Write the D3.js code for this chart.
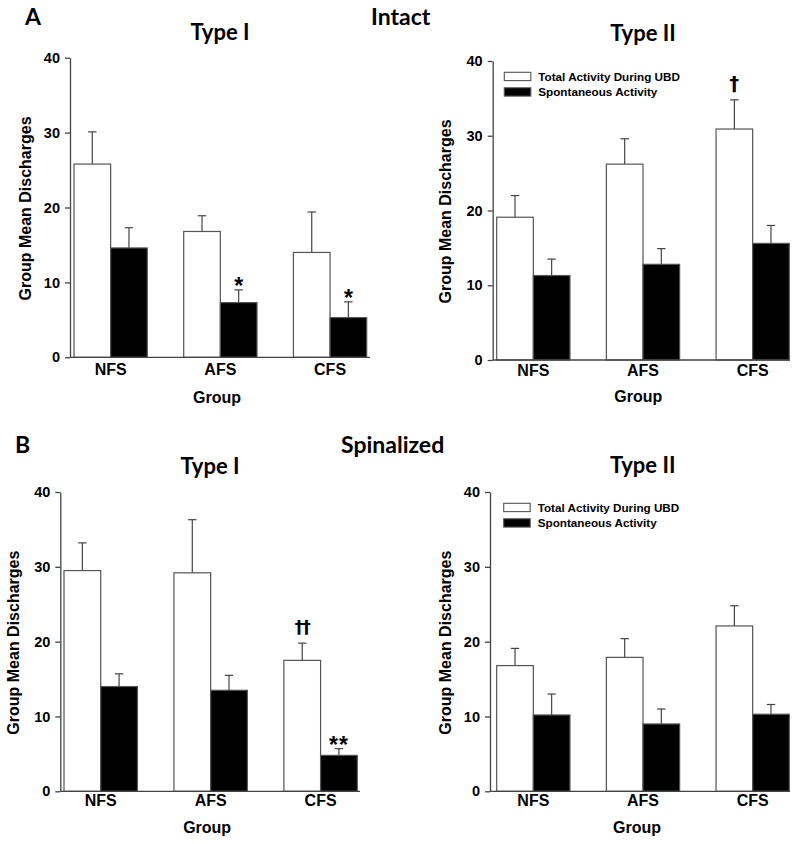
<!DOCTYPE html>
<html>
<head>
<meta charset="utf-8">
<script src="https://cdn.jsdelivr.net/npm/d3@7"></script>
<style>
  html, body { margin: 0; padding: 0; background: #fff; }
  svg { display: block; }
</style>
</head>
<body>
<svg id="chart" width="800" height="844"></svg>
<script>
// ---------- DATA ----------
const groups = ["NFS", "AFS", "CFS"];
const seriesNames = ["Total Activity During UBD", "Spontaneous Activity"];
const yTicks = [0, 10, 20, 30, 40];

// Intact, Type I
const intactTypeI_total = [25.8, 16.8, 14.0];
const intactTypeI_totalSem = [4.3, 2.1, 5.4];
const intactTypeI_spont = [14.6, 7.3, 5.3];
const intactTypeI_spontSem = [2.7, 1.7, 2.1];
const intactTypeI_totalMarks = ["", "", ""];
const intactTypeI_spontMarks = ["", "*", "*"];

// Intact, Type II
const intactTypeII_total = [19.1, 26.2, 30.9];
const intactTypeII_totalSem = [2.9, 3.4, 3.9];
const intactTypeII_spont = [11.3, 12.8, 15.6];
const intactTypeII_spontSem = [2.2, 2.1, 2.4];
const intactTypeII_totalMarks = ["", "", "\u2020"];
const intactTypeII_spontMarks = ["", "", ""];

// Spinalized, Type I
const spinalTypeI_total = [29.5, 29.2, 17.5];
const spinalTypeI_totalSem = [3.7, 7.1, 2.3];
const spinalTypeI_spont = [14.0, 13.5, 4.8];
const spinalTypeI_spontSem = [1.7, 2.0, 0.9];
const spinalTypeI_totalMarks = ["", "", "\u2020\u2020"];
const spinalTypeI_spontMarks = ["", "", "**"];

// Spinalized, Type II
const spinalTypeII_total = [16.8, 17.9, 22.1];
const spinalTypeII_totalSem = [2.3, 2.5, 2.7];
const spinalTypeII_spont = [10.2, 9.0, 10.3];
const spinalTypeII_spontSem = [2.8, 2.0, 1.3];
const spinalTypeII_totalMarks = ["", "", ""];
const spinalTypeII_spontMarks = ["", "", ""];

// ---------- LAYOUT ----------
const AX_FONT = "'Liberation Sans', Arial, Helvetica, sans-serif";
const TITLE_FONT = "Lato, 'Open Sans', sans-serif";
const DAGGER_FONT = "'DejaVu Sans', sans-serif";

const panels = [
  { title: "Type I", total: intactTypeI_total, totalSem: intactTypeI_totalSem, spont: intactTypeI_spont, spontSem: intactTypeI_spontSem,
    totalMarks: intactTypeI_totalMarks, spontMarks: intactTypeI_spontMarks,
    x0: 70, x1: 370, barL: 74, barR: 366.7, yTop: 57.7, yBot: 357.3, titleX: 220, titleY: 32,
    yTitleX: 25, catY: 369, groupY: 397, legend: null },
  { title: "Type II", total: intactTypeII_total, totalSem: intactTypeII_totalSem, spont: intactTypeII_spont, spontSem: intactTypeII_spontSem,
    totalMarks: intactTypeII_totalMarks, spontMarks: intactTypeII_spontMarks,
    x0: 492.7, x1: 790, barL: 496.7, barR: 789.3, yTop: 61, yBot: 360, titleX: 643, titleY: 33,
    yTitleX: 445.7, catY: 370.5, groupY: 396, legend: { x: 504.3, y: 72.3 } },
  { title: "Type I", total: spinalTypeI_total, totalSem: spinalTypeI_totalSem, spont: spinalTypeI_spont, spontSem: spinalTypeI_spontSem,
    totalMarks: spinalTypeI_totalMarks, spontMarks: spinalTypeI_spontMarks,
    x0: 60.3, x1: 360, barL: 64, barR: 357.3, yTop: 492, yBot: 791.3, titleX: 210, titleY: 465.7,
    yTitleX: 13.5, catY: 800.7, groupY: 827.3, legend: null },
  { title: "Type II", total: spinalTypeII_total, totalSem: spinalTypeII_totalSem, spont: spinalTypeII_spont, spontSem: spinalTypeII_spontSem,
    totalMarks: spinalTypeII_totalMarks, spontMarks: spinalTypeII_spontMarks,
    x0: 490, x1: 790, barL: 496.7, barR: 789.3, yTop: 492, yBot: 791.3, titleX: 642.7, titleY: 465,
    yTitleX: 445.7, catY: 800.7, groupY: 827.3, legend: { x: 503.7, y: 503.3 } }
];

const svg = d3.select("#chart");
const AXIS_COLOR = "#444";
const BAR_STROKE = "#555";

// Row headings
const headings = [
  { text: "A", x: 25, y: 17 },
  { text: "Intact", x: 371, y: 17 },
  { text: "B", x: 15, y: 445 },
  { text: "Spinalized", x: 341, y: 445 }
];
svg.selectAll("text.heading").data(headings).join("text")
  .attr("class", "heading")
  .attr("x", d => d.x).attr("y", d => d.y).attr("dy", "0.36em")
  .attr("font-family", TITLE_FONT).attr("font-weight", 700).attr("font-size", 23)
  .text(d => d.text);

panels.forEach(p => {
  const g = svg.append("g");
  const y = d3.scaleLinear().domain([0, 40]).range([p.yBot, p.yTop]);
  const x = d3.scaleBand().domain(groups).range([p.barL, p.barR]).paddingInner(0.332).paddingOuter(0);
  const xs = d3.scaleBand().domain(["total", "spont"]).range([0, x.bandwidth()]).padding(0);

  const rows = groups.map((gname, i) => ([
    { g: gname, k: "total", v: p.total[i], sem: p.totalSem[i], mark: p.totalMarks[i] },
    { g: gname, k: "spont", v: p.spont[i], sem: p.spontSem[i], mark: p.spontMarks[i] }
  ])).flat();

  // Error bars (upward only)
  const eb = g.append("g").attr("stroke", AXIS_COLOR).attr("stroke-width", 1.2).attr("fill", "none");
  rows.forEach(d => {
    const cx = x(d.g) + xs(d.k) + xs.bandwidth() / 2;
    eb.append("line").attr("x1", cx).attr("x2", cx).attr("y1", y(d.v)).attr("y2", y(d.v + d.sem));
    eb.append("line").attr("x1", cx - 4.2).attr("x2", cx + 4.2).attr("y1", y(d.v + d.sem)).attr("y2", y(d.v + d.sem));
  });

  // Bars
  g.append("g").selectAll("rect").data(rows).join("rect")
    .attr("x", d => x(d.g) + xs(d.k))
    .attr("y", d => y(d.v))
    .attr("width", xs.bandwidth())
    .attr("height", d => y(0) - y(d.v))
    .attr("fill", d => d.k === "total" ? "#fff" : "#000")
    .attr("stroke", BAR_STROKE).attr("stroke-width", 1.2);

  // Significance marks
  const isStar = m => m.indexOf("*") >= 0;
  g.append("g").selectAll("text").data(rows.filter(d => d.mark)).join("text")
    .attr("x", d => x(d.g) + xs(d.k) + xs.bandwidth() / 2)
    .attr("y", d => {
      const top = y(d.v + d.sem);
      return isStar(d.mark) ? top + 4 : top - 10;
    })
    .attr("text-anchor", "middle")
    .attr("font-family", d => isStar(d.mark) ? AX_FONT : DAGGER_FONT)
    .attr("font-weight", 700)
    .attr("font-size", d => isStar(d.mark) ? 23 : (d.mark.length > 1 ? 17 : 19))
    .attr("letter-spacing", d => d.mark === "**" ? 1 : (d.mark.length > 1 ? -1 : 0))
    .text(d => d.mark);

  // Y axis
  const yAxis = d3.axisLeft(y).tickValues(yTicks).tickSize(5).tickSizeOuter(0).tickPadding(5);
  const ya = g.append("g").attr("transform", `translate(${p.x0},0)`).call(yAxis);
  ya.select(".domain").attr("stroke", AXIS_COLOR).attr("stroke-width", 1.3);
  ya.selectAll(".tick line").attr("stroke", AXIS_COLOR).attr("stroke-width", 1.3);
  ya.selectAll(".tick text").attr("font-family", AX_FONT).attr("font-weight", 700).attr("font-size", 14.5).attr("fill", "#000");

  // X axis: baseline line + category labels
  g.append("path")
    .attr("d", d3.line()([[p.x0, y(0)], [p.x1, y(0)]]))
    .attr("stroke", AXIS_COLOR).attr("stroke-width", 1.3);
  const xAxis = d3.axisBottom(x).tickSize(0).tickPadding(0);
  const xa = g.append("g").attr("transform", `translate(0,${p.catY})`).call(xAxis);
  xa.select(".domain").remove();
  xa.selectAll(".tick text").attr("font-family", AX_FONT).attr("font-weight", 700).attr("font-size", 16)
    .attr("fill", "#000").attr("dy", "0.36em").attr("y", 0);

  // Axis titles
  g.append("text")
    .attr("x", (p.x0 + p.x1) / 2 - 3).attr("y", p.groupY).attr("dy", "0.36em")
    .attr("text-anchor", "middle")
    .attr("font-family", AX_FONT).attr("font-weight", 700).attr("font-size", 16)
    .text("Group");
  g.append("text")
    .attr("transform", `translate(${p.yTitleX},${(p.yTop + p.yBot) / 2 + 1}) rotate(-90)`)
    .attr("dy", "0.36em")
    .attr("text-anchor", "middle")
    .attr("font-family", AX_FONT).attr("font-weight", 700).attr("font-size", 16)
    .text("Group Mean Discharges");

  // Panel title
  g.append("text")
    .attr("x", p.titleX).attr("y", p.titleY).attr("dy", "0.36em")
    .attr("text-anchor", "middle")
    .attr("font-family", TITLE_FONT).attr("font-weight", 700).attr("font-size", 22)
    .text(p.title);

  // Legend
  if (p.legend) {
    const lg = g.append("g").attr("transform", `translate(${p.legend.x},${p.legend.y})`);
    const items = seriesNames.map((name, i) => ({ name, fill: i === 0 ? "#fff" : "#000", i }));
    lg.selectAll("rect").data(items).join("rect")
      .attr("x", 0).attr("y", d => d.i * 15.5).attr("width", 26.5).attr("height", 8.3)
      .attr("fill", d => d.fill).attr("stroke", BAR_STROKE).attr("stroke-width", 1.1);
    lg.selectAll("text").data(items).join("text")
      .attr("x", 34).attr("y", d => d.i * 15.5 + 4.2).attr("dy", "0.36em")
      .attr("font-family", AX_FONT).attr("font-weight", 700).attr("font-size", 11.7)
      .text(d => d.name);
  }
});
</script>
</body>
</html>
